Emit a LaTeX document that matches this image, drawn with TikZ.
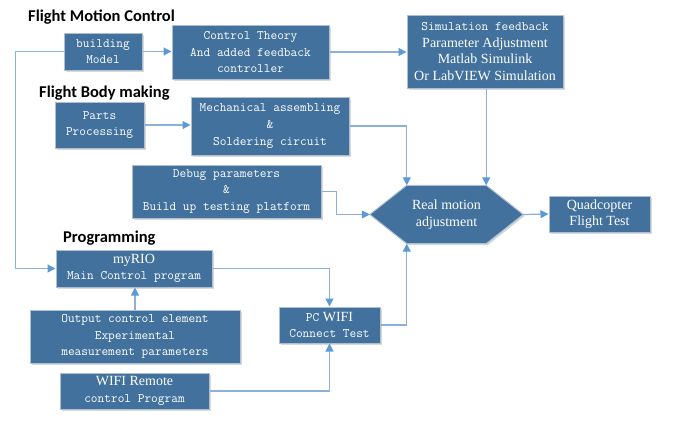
\documentclass[tikz,border=0pt]{standalone}
\usepackage{fontspec}
\setmainfont{Liberation Serif}
\setsansfont{Carlito}
\usetikzlibrary{arrows.meta,shadows,backgrounds}
\definecolor{boxblue}{HTML}{41719C}
\definecolor{boxedge}{HTML}{AEBFD2}
\definecolor{linkblue}{HTML}{8CB0D8}
\definecolor{tipblue}{HTML}{5B9BD5}
\begin{document}
\begin{tikzpicture}[x=1pt, y=-1pt,
	words/.style={text=white, align=center, inner sep=0pt, font=\fontsize{14}{16.6}\selectfont},
	box/.style={words, draw=boxedge, line width=1pt, fill=boxblue,
		drop shadow={shadow xshift=1.5pt, shadow yshift=-1.5pt, opacity=.3}},
	mono/.style={box, font=\ttfamily\fontsize{13}{16.6}\selectfont},
	link/.style={draw=linkblue, line width=1.2pt, -{Triangle[length=8pt,width=8pt,color=tipblue]}},
	head/.style={anchor=west, inner sep=0pt, font=\sffamily\bfseries\fontsize{16.5}{18}\selectfont}]
	\useasboundingbox (0,0) rectangle (677,421);
	% headings
	\node[head] (hmotion) at (28,17) {Flight Motion Control};
	\node[head] (hbody) at (39,93) {Flight Body making};
	\node[head] (hprog) at (63,238) {Programming};
	% boxes
	\node[mono, minimum width=78pt, minimum height=37pt] (build) at (103,51.5) {building\\Model};
	\node[mono, minimum width=157pt, minimum height=54pt] (theory) at (250.5,52) {Control Theory\\And added feedback\\controller};
	\node[box, minimum width=156pt, minimum height=73pt] (simul) at (485,51.5) {{\ttfamily\fontsize{13}{16.6}\selectfont Simulation feedback}\\Parameter Adjustment\\Matlab Simulink\\Or LabVIEW Simulation};
	\node[mono, minimum width=89pt, minimum height=46pt] (parts) at (99.5,125) {Parts\\Processing};
	\node[mono, minimum width=158pt, minimum height=58pt] (mech) at (270,126) {Mechanical assembling\\\&\\Soldering circuit};
	\node[mono, minimum width=189pt, minimum height=53pt] (debug) at (226.5,191.5) {Debug parameters\\\&\\Build up testing platform};
	\node[words, minimum width=79pt, minimum height=58pt] (adjust) at (446.5,214.5) {Real motion\\adjustment};
	\node[box, minimum width=101pt, minimum height=36pt] (quad) at (599.5,214) {Quadcopter\\Flight Test};
	\node[box, minimum width=156pt, minimum height=37pt] (myrio) at (134,268.5) {myRIO\\{\ttfamily\fontsize{13}{16.6}\selectfont Main Control program}};
	\node[mono, minimum width=210pt, minimum height=53pt] (output) at (135,336.5) {Output control element\\Experimental\\measurement parameters};
	\node[box, minimum width=101pt, minimum height=36pt] (pcwifi) at (329.5,325) {{\ttfamily\fontsize{13}{16.6}\selectfont PC} WIFI\\{\ttfamily\fontsize{13}{16.6}\selectfont Connect Test}};
	\node[box, minimum width=149pt, minimum height=36pt] (remote) at (134.5,391) {WIFI Remote\\{\ttfamily\fontsize{13}{16.6}\selectfont control Program}};
	% hexagon round the adjustment node
	\coordinate (tipL) at ([xshift=-37pt]adjust.west);
	\coordinate (tipR) at ([xshift=37pt]adjust.east);
	\begin{scope}[on background layer]
		\filldraw[draw=boxedge, line width=1pt, fill=boxblue, drop shadow={shadow xshift=1.5pt, shadow yshift=-1.5pt, opacity=.3}]
			(tipL) -- (adjust.north west) -- (adjust.north east) -- (tipR) -- (adjust.south east) -- (adjust.south west) -- cycle;
	\end{scope}
	% connectors
	\draw[link] (build.east) -- (theory.west |- build.east);
	\draw[link] (theory.east) -- (simul.west |- theory.east);
	\draw[link] (build.west) -- ++(-48,0) |- (myrio.west);
	\draw[link] (parts.east) -- (mech.west |- parts.east);
	\draw[link] (mech.east) -| (adjust.north west);
	\draw[link] (simul.south -| adjust.north east) -- (adjust.north east);
	\draw[link] (debug.east) -- ++(15,0) |- (tipL);
	\draw[link] (tipR) -- (quad.west);
	\draw[link] (myrio.east) -| (pcwifi.north);
	\draw[link] (output.north) -- (myrio.south -| output.north);
	\draw[link] (remote.east) -| (pcwifi.south);
	\draw[link] (pcwifi.east) -| (adjust.south west);
\end{tikzpicture}
\end{document}
